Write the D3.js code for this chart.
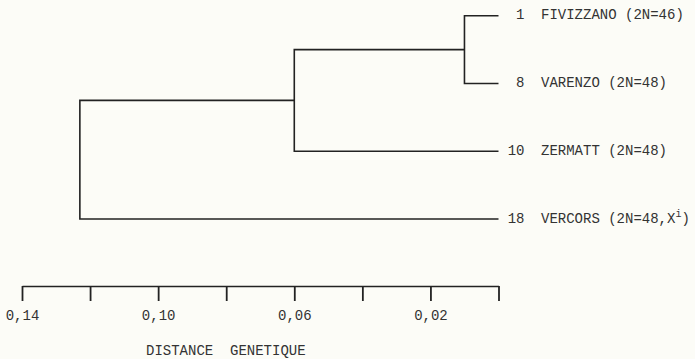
<!DOCTYPE html>
<html><head><meta charset="utf-8">
<script src="https://cdn.jsdelivr.net/npm/d3@7"></script>
<style>
html,body{margin:0;padding:0;background:#fcfcf7;}
text{font-family:"Liberation Mono",monospace;fill:#333;white-space:pre;}
</style></head>
<body><svg id="c" width="695" height="359"></svg>
<script>
const leafIds = ["1", "8", "10", "18"];
const leafNames = ["FIVIZZANO (2N=46)", "VARENZO (2N=48)", "ZERMATT (2N=48)", "VERCORS (2N=48,X"];
const leafSuffix = ["", "", "", "i|)"];
// merges: [left, right]; indices <4 are leaves, >=4 are previous merges
const mergePairs = [[0, 1], [4, 2], [5, 3]];
const mergeHeights = [0.010, 0.060, 0.123];
const tickValues = [0.14, 0.12, 0.10, 0.08, 0.06, 0.04, 0.02, 0.00];
const tickLabels = ["0,14", "", "0,10", "", "0,06", "", "0,02", ""];
const axisTitle = "DISTANCE  GENETIQUE";

const svg = d3.select("#c");
const x = d3.scaleLinear().domain([0.14, 0]).range([22, 498.5]);
const y = d3.scalePoint().domain(leafIds).range([15.7, 219]);
const ink = "#222";
const fs = "14px";

const nodes = leafIds.map(id => ({x: x(0), y: y(id)}));
mergePairs.forEach((p, i) => {
  const a = nodes[p[0]], b = nodes[p[1]];
  nodes.push({x: x(mergeHeights[i]), y: (a.y + b.y) / 2, a, b});
});

const g = svg.append("g");
nodes.filter(n => n.a).forEach(n => {
  const path = d3.path();
  path.moveTo(n.a.x, n.a.y); path.lineTo(n.x, n.a.y);
  path.lineTo(n.x, n.b.y); path.lineTo(n.b.x, n.b.y);
  g.append("path").attr("d", path.toString()).attr("fill", "none")
    .attr("stroke", ink).attr("stroke-width", 1.6);
});

// leaf labels: number right-aligned, name left-aligned
leafIds.forEach((id, i) => {
  svg.append("text").attr("x", x(0) + 26).attr("y", y(id) + 3.5)
    .attr("font-size", fs).attr("text-anchor", "end").text(id);
  const t = svg.append("text").attr("x", x(0) + 42.5).attr("y", y(id) + 3.5)
    .attr("font-size", fs);
  t.append("tspan").text(leafNames[i]);
  if (leafSuffix[i]) {
    const [sup, rest] = leafSuffix[i].split("|");
    t.append("tspan").attr("dy", -6).attr("font-size", "10px").text(sup);
    t.append("tspan").attr("dy", 6).text(rest);
  }
});

// axis
const axis = d3.axisBottom(x).tickValues(tickValues).tickSizeInner(15).tickSizeOuter(0)
  .tickFormat((d, i) => tickLabels[i]);
const ag = svg.append("g").attr("transform", "translate(0,286)").call(axis);
ag.select(".domain").attr("stroke", ink).attr("stroke-width", 1.6);
ag.selectAll(".tick line").attr("stroke", ink).attr("stroke-width", 1.8);
ag.selectAll(".tick text").attr("y", 29).attr("dy", "0.35em")
  .attr("font-size", fs).attr("font-family", "Liberation Mono, monospace").attr("fill", "#333");

svg.append("text").attr("x", 146).attr("y", 355).attr("font-size", fs).text(axisTitle);
</script></body></html>
